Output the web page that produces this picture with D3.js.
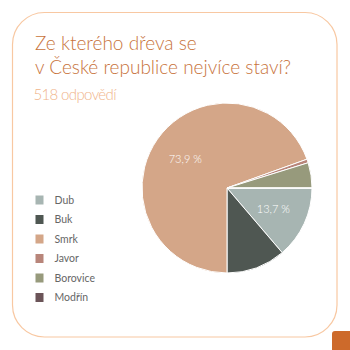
<!DOCTYPE html>
<html>
<head>
<meta charset="utf-8">
<script src="https://cdn.jsdelivr.net/npm/d3@7/dist/d3.min.js"></script>
<style>
  body { margin: 0; background: #fff; }
  svg { display: block; }
</style>
</head>
<body>
<div id="chart"></div>
<script>
const titleLines = ["Ze kterého dřeva se", "v České republice nejvíce staví?"];
const subtitle = "518 odpovědí";
const categories = ["Dub", "Buk", "Smrk", "Javor", "Borovice", "Modřín"];
const shares = [13.75, 11.25, 69.5, 0.7, 4.8, 0];
const sliceLabels = ["13,7 %", "", "73,9 %", "", "", ""];
const colors = ["#a7b5b2", "#4f5752", "#d4a688", "#b8857a", "#979a7c", "#6b5458"];

const width = 350, height = 350;
const svg = d3.select("#chart").append("svg")
    .attr("width", width)
    .attr("height", height);

// card frame
svg.append("rect")
    .attr("x", 12.5).attr("y", 12.5)
    .attr("width", 324.5).attr("height", 324.5)
    .attr("rx", 32)
    .attr("fill", "none")
    .attr("stroke", "#f8c8a2")
    .attr("stroke-width", 1.2);

// little corner tab
svg.append("rect")
    .attr("x", 332).attr("y", 331)
    .attr("width", 30).attr("height", 30)
    .attr("rx", 3)
    .attr("fill", "#cd6a2b");

// title
svg.append("text")
    .attr("font-family", "Lato, sans-serif")
    .attr("font-weight", 300)
    .attr("font-size", 19)
    .attr("fill", "#c8733b")
    .selectAll("tspan")
    .data(titleLines)
    .enter()
    .append("tspan")
    .attr("x", 35)
    .attr("y", (d, i) => 50 + i * 23.5)
    .text(d => d);

svg.append("text")
    .attr("x", 33.5).attr("y", 99.5)
    .attr("font-family", "Lato, sans-serif")
    .attr("font-weight", 300)
    .attr("font-size", 15)
    .attr("textLength", 83)
    .attr("lengthAdjust", "spacing")
    .attr("fill", "#f0b48a")
    .text(subtitle);

// pie
const cx = 227, cy = 188, radius = 85;
const g = svg.append("g").attr("transform", `translate(${cx},${cy})`);

const pie = d3.pie()
    .sort(null)
    .value(d => d)
    .startAngle(Math.PI / 2)
    .endAngle(Math.PI / 2 + 2 * Math.PI);

const arc = d3.arc().innerRadius(0).outerRadius(radius);
const labelArc = d3.arc().innerRadius(radius * 0.6).outerRadius(radius * 0.6);

const arcs = pie(shares);

g.selectAll("path")
    .data(arcs)
    .enter()
    .append("path")
    .attr("d", arc)
    .attr("fill", (d, i) => colors[i])
    .attr("stroke", "#fff")
    .attr("stroke-width", 1);

g.selectAll(".slice-label")
    .data(arcs)
    .enter()
    .append("text")
    .attr("class", "slice-label")
    .attr("transform", d => `translate(${labelArc.centroid(d)})`)
    .attr("text-anchor", "middle")
    .attr("dy", "0.35em")
    .attr("font-family", "Lato, sans-serif")
    .attr("font-weight", 300)
    .attr("font-size", 11)
    .attr("fill", "#fff")
    .text((d, i) => sliceLabels[i]);

// legend
const legend = svg.append("g").attr("transform", "translate(35.5,200)");
const rows = legend.selectAll("g")
    .data(categories)
    .enter()
    .append("g")
    .attr("transform", (d, i) => `translate(0,${i * 19.5})`);

rows.append("rect")
    .attr("x", 0).attr("y", -4.5)
    .attr("width", 8).attr("height", 9)
    .attr("fill", (d, i) => colors[i]);

rows.append("text")
    .attr("x", 19)
    .attr("dy", "0.35em")
    .attr("font-family", "Lato, sans-serif")
    .attr("font-size", 10.5)
    .attr("fill", "#666")
    .text(d => d);
</script>
</body>
</html>
